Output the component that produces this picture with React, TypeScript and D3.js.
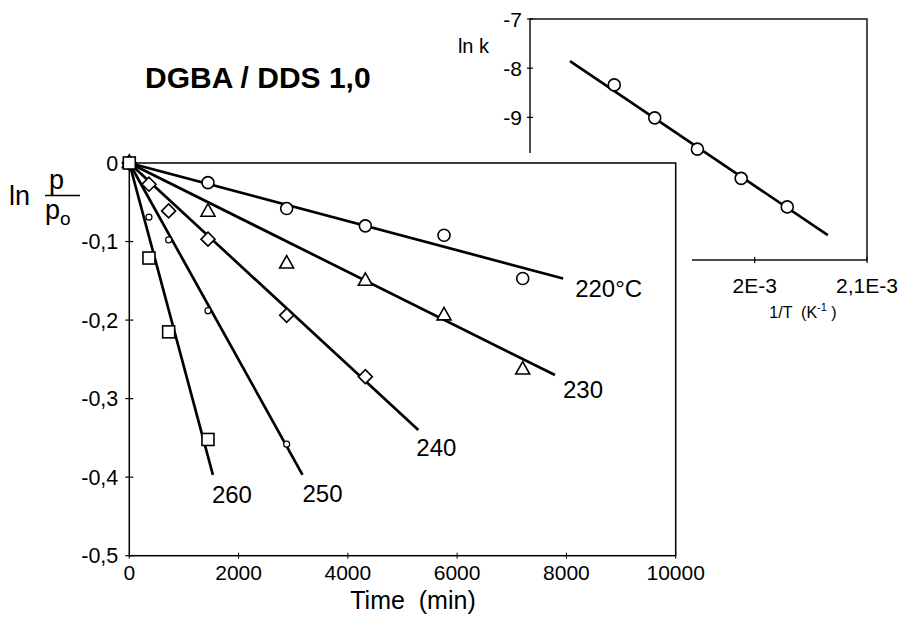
import * as d3 from "d3";

// main plot: ln(p/p0) versus time, one series per temperature
const seriesNames = ["220", "230", "240", "250", "260"];
const seriesLabels = ["220°C", "230", "240", "250", "260"];
const seriesMarkers = ["circle", "triangle", "diamond", "dot", "square"];

const times220 = [0, 1440, 2880, 4320, 5760, 7200];
const values220 = [0, -0.025, -0.058, -0.08, -0.092, -0.147];
const times230 = [0, 1440, 2880, 4320, 5760, 7200];
const values230 = [0, -0.062, -0.128, -0.15, -0.194, -0.263];
const times240 = [0, 360, 720, 1440, 2880, 4320];
const values240 = [0, -0.027, -0.061, -0.097, -0.194, -0.272];
const times250 = [0, 360, 720, 1440, 2880];
const values250 = [0, -0.069, -0.098, -0.188, -0.358];
const times260 = [0, 360, 720, 1440];
const values260 = [0, -0.121, -0.215, -0.352];

// fitted lines start at the origin and end here
const fitEndTimes = [7940, 7790, 5290, 3170, 1530];
const fitEndValues = [-0.147, -0.27, -0.34, -0.397, -0.397];

const xTicks = [0, 2000, 4000, 6000, 8000, 10000];
const yTicks = [0, -0.1, -0.2, -0.3, -0.4, -0.5];

// inset: Arrhenius plot
const invT = [1.875e-3, 1.911e-3, 1.949e-3, 1.988e-3, 2.029e-3];
const lnK = [-8.34, -9.01, -9.645, -10.24, -10.82];
const insetFitX = [1.8356e-3, 2.0651e-3];
const insetFitY = [-7.855, -11.395];
const insetXTicks = [2e-3, 2.1e-3];
const insetXTickLabels = ["2E-3", "2,1E-3"];
const insetYTicks = [-7, -8, -9];

const seriesTimes = [times220, times230, times240, times250, times260];
const seriesValues = [values220, values230, values240, values250, values260];

// label offsets (px) from the end of each fitted line
const labelOffsets = [
  [12, 19],
  [8, 23],
  [-2, 26],
  [0, 27],
  [-1, 28],
];

const FONT = "'Liberation Sans', Arial, Helvetica, sans-serif";

function Marker({ type, x, y }: { type: string; x: number; y: number }) {
  const common = { fill: "#fff", stroke: "#000", strokeWidth: 1.6 };
  if (type === "circle") return <circle cx={x} cy={y} r={6} {...common} />;
  if (type === "dot") return <circle cx={x} cy={y} r={3} {...common} strokeWidth={1.2} />;
  if (type === "square") return <rect x={x - 6} y={y - 6} width={12} height={12} {...common} />;
  if (type === "diamond")
    return <path d={`M${x},${y - 7}L${x + 7},${y}L${x},${y + 7}L${x - 7},${y}Z`} {...common} />;
  // triangle, centroid on the point
  return <path d={`M${x},${y - 8}L${x + 7},${y + 4.5}L${x - 7},${y + 4.5}Z`} {...common} />;
}

export default function App() {
  const W = 904;
  const H = 625;

  const x = d3.scaleLinear().domain([0, 10000]).range([129.3, 675.7]);
  const y = d3.scaleLinear().domain([0, -0.5]).range([163, 555.7]);

  const ix = d3.scaleLinear().domain([1.8e-3, 2.1e-3]).range([530, 867]);
  const iy = d3.scaleLinear().domain([-7, -11.9]).range([19, 260]);

  const line = d3
    .line<[number, number]>()
    .x((d) => x(d[0]))
    .y((d) => y(d[1]));
  const iline = d3
    .line<[number, number]>()
    .x((d) => ix(d[0]))
    .y((d) => iy(d[1]));

  const fmtY = (v: number) => (v === 0 ? "0" : d3.format(".1f")(v).replace(".", ",").replace("−", "-"));

  const [x0, x1] = x.range();
  const [y0, y1] = y.range();
  const [ix0, ix1] = ix.range();
  const [iy0, iy1] = iy.range();

  return (
    <svg
      width={W}
      height={H}
      viewBox={`0 0 ${W} ${H}`}
      style={{ position: "absolute", left: 0, top: 0, background: "#fff", fontFamily: FONT }}
    >
      {/* ---------- inset ---------- */}
      <g>
        <rect x={ix0} y={iy0} width={ix1 - ix0} height={iy1 - iy0} fill="#fff" stroke="#000" strokeWidth={1.4} />
        {insetYTicks.map((t) => (
          <g key={t}>
            <line x1={ix0 - 3} x2={ix0 + 3} y1={iy(t)} y2={iy(t)} stroke="#000" strokeWidth={1.2} />
            <text x={ix0 - 8} y={iy(t)} dy="0.36em" textAnchor="end" fontSize={21}>
              {String(t)}
            </text>
          </g>
        ))}
        {insetXTicks.map((t, i) => (
          <g key={t}>
            <line x1={ix(t)} x2={ix(t)} y1={iy1 - 3} y2={iy1 + 3} stroke="#000" strokeWidth={1.2} />
            <text x={ix(t)} y={iy1 + 33} textAnchor="middle" fontSize={21}>
              {insetXTickLabels[i]}
            </text>
          </g>
        ))}
        <text x={489} y={53} textAnchor="end" fontSize={20}>
          ln k
        </text>
        <text x={803} y={318} textAnchor="middle" fontSize={16} style={{ whiteSpace: "pre" }}>
          {"1/T  (K"}
          <tspan dy={-7} fontSize={11}>
            -1
          </tspan>
          <tspan dy={7}>{" )"}</tspan>
        </text>
        <path
          d={iline(insetFitX.map((v, i) => [v, insetFitY[i]]) as [number, number][]) || ""}
          fill="none"
          stroke="#000"
          strokeWidth={2.6}
        />
        {invT.map((v, i) => (
          <Marker key={i} type="circle" x={ix(v)} y={iy(lnK[i])} />
        ))}
      </g>

      {/* white area of the main plot covering the inset */}
      <rect x={0} y={153} width={692} height={H - 153} fill="#fff" />

      {/* ---------- main plot ---------- */}
      <text x={145} y={88} fontSize={30} fontWeight="bold">
        DGBA / DDS 1,0
      </text>

      <rect x={x0} y={y0} width={x1 - x0} height={y1 - y0} fill="none" stroke="#000" strokeWidth={1.5} />

      {yTicks.map((t) => (
        <g key={t}>
          <line x1={x0 - 4} x2={x0 + 4} y1={y(t)} y2={y(t)} stroke="#000" strokeWidth={1.2} />
          <text x={x0 - 11} y={y(t)} dy="0.36em" textAnchor="end" fontSize={21.5}>
            {fmtY(t)}
          </text>
        </g>
      ))}
      {xTicks.map((t) => (
        <g key={t}>
          <line x1={x(t)} x2={x(t)} y1={y1 - 3} y2={y1 + 3} stroke="#000" strokeWidth={1} />
          <text x={x(t)} y={y1 + 24} textAnchor="middle" fontSize={21}>
            {String(t)}
          </text>
        </g>
      ))}

      <text x={413} y={609} textAnchor="middle" fontSize={25} style={{ whiteSpace: "pre" }}>
        {"Time  (min)"}
      </text>

      {/* y axis title: ln p/p0 */}
      <g fontSize={27}>
        <text x={9} y={205}>
          ln
        </text>
        <text x={49} y={189}>
          p
        </text>
        <line x1={45} x2={80} y1={195.5} y2={195.5} stroke="#000" strokeWidth={1.6} />
        <text x={45} y={219}>
          p
          <tspan fontSize={19} dy={6}>
            o
          </tspan>
        </text>
      </g>

      {/* fitted lines */}
      {seriesNames.map((s, i) => (
        <path
          key={`fit-${s}`}
          d={line([[0, 0], [fitEndTimes[i], fitEndValues[i]]]) || ""}
          fill="none"
          stroke="#000"
          strokeWidth={2.7}
        />
      ))}

      {/* markers */}
      {seriesNames.map((s, i) => (
        <g key={`pts-${s}`}>
          {seriesTimes[i].map((t, j) => (
            <Marker key={j} type={seriesMarkers[i]} x={x(t)} y={y(seriesValues[i][j])} />
          ))}
        </g>
      ))}

      {/* series labels */}
      {seriesLabels.map((lab, i) => (
        <text
          key={lab}
          x={x(fitEndTimes[i]) + labelOffsets[i][0]}
          y={y(fitEndValues[i]) + labelOffsets[i][1]}
          fontSize={24}
        >
          {lab}
        </text>
      ))}
    </svg>
  );
}
